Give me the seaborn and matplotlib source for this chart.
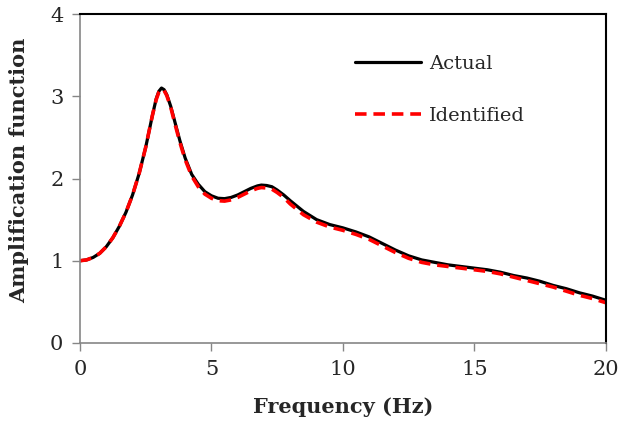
import numpy as np
import pandas as pd
import seaborn as sns
import matplotlib
matplotlib.use("Agg")
import matplotlib.pyplot as plt

freq = [0.0, 0.25, 0.5, 0.75, 1.0, 1.25, 1.5, 1.75, 2.0, 2.25, 2.5, 2.75, 2.9, 3.0,
        3.1, 3.2, 3.3, 3.45, 3.6, 3.8, 4.0, 4.25, 4.5, 4.75, 5.0, 5.25, 5.5, 5.75,
        6.0, 6.25, 6.5, 6.75, 6.9, 7.1, 7.3, 7.5, 7.75, 8.0, 8.5, 9.0,
        9.5, 10.0, 10.5, 11.0, 11.5, 12.0, 12.5, 13.0, 13.5, 14.0, 14.5, 15.0,
        15.5, 16.0, 16.5, 17.0, 17.5, 18.0, 18.5, 19.0, 19.5, 20.0]
actual = [1.00, 1.01, 1.04, 1.09, 1.17, 1.28, 1.42, 1.59, 1.80, 2.06, 2.38, 2.76,
          2.97, 3.06, 3.10, 3.08, 3.02, 2.88, 2.70, 2.46, 2.25, 2.05, 1.93, 1.84,
          1.79, 1.76, 1.755, 1.77, 1.80, 1.84, 1.88, 1.91, 1.92, 1.915, 1.90, 1.86,
          1.80, 1.73, 1.60, 1.50, 1.44, 1.40, 1.35, 1.29, 1.21, 1.13, 1.06, 1.01,
          0.98, 0.95, 0.93, 0.91, 0.89, 0.86, 0.82, 0.79, 0.75, 0.70, 0.66, 0.61,
          0.57, 0.52]
identified = [1.00, 1.01, 1.04, 1.09, 1.17, 1.28, 1.42, 1.59, 1.80, 2.06, 2.38, 2.76,
              2.96, 3.05, 3.09, 3.07, 3.01, 2.87, 2.68, 2.44, 2.23, 2.03, 1.90, 1.81,
              1.76, 1.73, 1.725, 1.74, 1.77, 1.81, 1.85, 1.88, 1.89, 1.885, 1.87, 1.83,
              1.77, 1.69, 1.56, 1.47, 1.41, 1.37, 1.32, 1.26, 1.18, 1.10, 1.03, 0.98,
              0.95, 0.93, 0.91, 0.89, 0.87, 0.84, 0.80, 0.76, 0.72, 0.68, 0.63, 0.58,
              0.54, 0.49]
x_ticks = [0, 5, 10, 15, 20]
y_ticks = [0, 1, 2, 3, 4]

sns.set_theme(style="white")
plt.rcParams['font.family'] = ['DejaVu Serif']

fig, ax = plt.subplots(figsize=(6.2, 4.25), dpi=100)
fig.subplots_adjust(left=0.129, right=0.977, top=0.967, bottom=0.193)

df = pd.DataFrame({"f": freq, "Actual": actual, "Identified": identified})
sns.lineplot(data=df, x="f", y="Actual", ax=ax, color="black", lw=2.3,
             label="Actual")
sns.lineplot(data=df, x="f", y="Identified", ax=ax, color="#ff0000", lw=2.6,
             label="Identified", linestyle=(0, (3.2, 1.9)))

ax.set_xlim(0, 20)
ax.set_ylim(0, 4)
ax.set_xticks(x_ticks)
ax.set_yticks(y_ticks)
ax.tick_params(axis="both", labelsize=15, direction="out", length=6,
               width=1, color="#868686", pad=6, left=True, bottom=True)
ax.set_xlabel("Frequency (Hz)", fontsize=15, fontweight="bold", labelpad=13)
ax.set_ylabel("Amplification function", fontsize=15, fontweight="bold")
ax.yaxis.set_label_coords(-0.097, 0.525)

for s in ["left", "bottom"]:
    ax.spines[s].set_color("#868686")
    ax.spines[s].set_linewidth(1.2)
for s in ["top", "right"]:
    ax.spines[s].set_color("black")
    ax.spines[s].set_linewidth(1.5)

ax.legend(frameon=False, fontsize=14, handlelength=3.4, labelspacing=1.75,
          loc="upper left", bbox_to_anchor=(0.49, 0.93), handletextpad=0.4)

fig.savefig("out.png", dpi=100)
